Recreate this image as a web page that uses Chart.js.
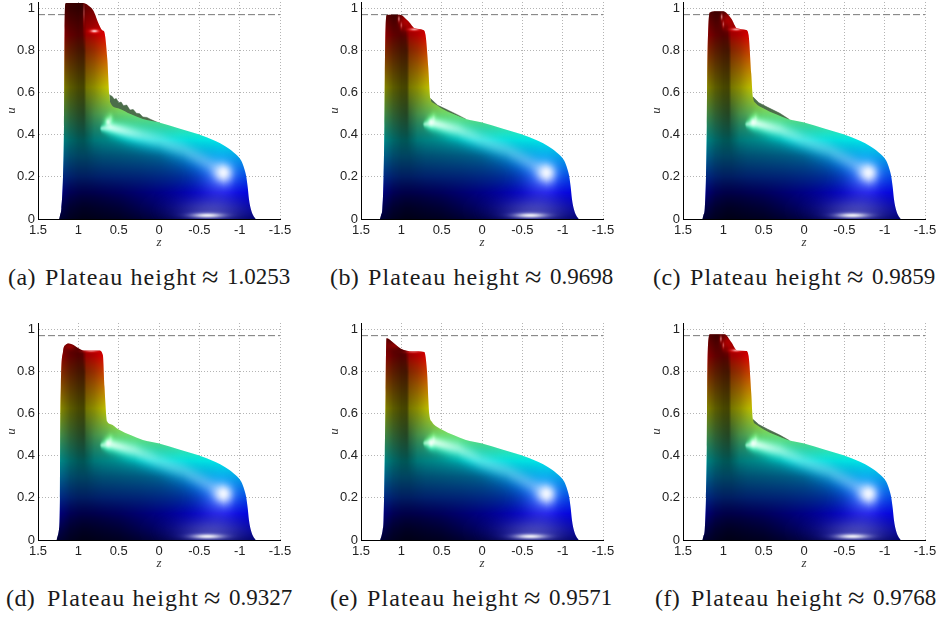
<!DOCTYPE html>
<html>
<head>
<meta charset="utf-8">
<script src="https://cdn.jsdelivr.net/npm/chart.js@4"></script>
<style>
  html, body { margin: 0; padding: 0; background: #fff; overflow: hidden; }
  #page { position: relative; width: 938px; height: 619px; }
  canvas { position: absolute; filter: blur(0.35px); }
  .cap { position: absolute; white-space: pre; color: #1a1a1a;
         font: 24px "Liberation Serif", serif; line-height: 28px; }
</style>
</head>
<body>
<div id="page"></div>
<script>
// 軸の目盛り
const zTicks = [1.5, 1, 0.5, 0, -0.5, -1, -1.5];
const uTicks = [0, 0.2, 0.4, 0.6, 0.8, 1];
const refLevel = 0.97;
const plateauHeights = ['1.0253', '0.9698', '0.9859', '0.9327', '0.9571', '0.9768'];
const panelLetters = ['a', 'b', 'c', 'd', 'e', 'f'];

// 右側の棚（全パネル共通）
const shelfZ = [0.6, 0.5, 0.347, 0.2, 0.01, -0.25, -0.48, -0.7, -0.816, -0.93, -1.02, -1.06, -1.08, -1.1, -1.115, -1.14, -1.17, -1.2];
const shelfU = [0.55, 0.525, 0.497, 0.475, 0.459, 0.43, 0.403, 0.37, 0.347, 0.315, 0.276, 0.235, 0.205, 0.15, 0.095, 0.045, 0.016, 0];

// 左側の塔（パネルごと）
const towerZa = [1.238, 1.225, 1.21, 1.19, 1.178, 1.17, 1.162, 1.15, 1.05, 0.94, 0.88, 0.815, 0.74, 0.7, 0.68, 0.64, 0.617];
const towerUa = [0, 0.02, 0.05, 0.2, 0.44, 0.9, 1.02, 1.0253, 1.0253, 1.0253, 1.015, 0.99, 0.92, 0.895, 0.89, 0.755, 0.59];
const towerZb = [1.265, 1.25, 1.235, 1.22, 1.21, 1.205, 1.195, 1.18, 1.1, 1.02, 0.915, 0.83, 0.73, 0.7, 0.667, 0.642];
const towerUb = [0, 0.02, 0.05, 0.2, 0.44, 0.675, 0.913, 0.968, 0.9698, 0.9698, 0.94, 0.905, 0.897, 0.873, 0.723, 0.573];
const towerZc = [1.26, 1.245, 1.23, 1.215, 1.205, 1.2, 1.185, 1.165, 1.09, 1.006, 0.903, 0.83, 0.717, 0.687, 0.654, 0.634];
const towerUc = [0, 0.02, 0.05, 0.2, 0.44, 0.675, 0.92, 0.98, 0.9859, 0.9859, 0.952, 0.905, 0.897, 0.873, 0.69, 0.58];
const towerZd = [1.27, 1.255, 1.24, 1.228, 1.226, 1.217, 1.19, 1.16, 1.118, 1.06, 1.015, 0.93, 0.745, 0.696, 0.676, 0.642];
const towerUd = [0, 0.02, 0.05, 0.2, 0.44, 0.728, 0.894, 0.925, 0.9327, 0.925, 0.914, 0.9, 0.899, 0.878, 0.728, 0.562];
const towerZe = [1.263, 1.245, 1.23, 1.22, 1.205, 1.195, 1.19, 1.184, 1.11, 1.006, 0.86, 0.716, 0.683, 0.655, 0.62];
const towerUe = [0, 0.02, 0.05, 0.095, 0.41, 0.7, 0.886, 0.9571, 0.94, 0.908, 0.896, 0.892, 0.806, 0.6, 0.56];
const towerZf = [1.26, 1.245, 1.23, 1.215, 1.205, 1.2, 1.185, 1.165, 1.07, 0.985, 0.903, 0.83, 0.717, 0.687, 0.654, 0.634];
const towerUf = [0, 0.02, 0.05, 0.2, 0.44, 0.728, 0.95, 0.9768, 0.9768, 0.9768, 0.94, 0.9, 0.897, 0.873, 0.696, 0.573];

// 棚の上のギザギザ
const fringeZa = [0.617, 0.58, 0.555, 0.53, 0.5, 0.47, 0.44, 0.4, 0.36, 0.32, 0.28, 0.24, 0.2, 0.15, 0.1, 0.05, 0];
const fringeUa = [0.59, 0.582, 0.568, 0.572, 0.552, 0.555, 0.538, 0.541, 0.517, 0.52, 0.502, 0.5, 0.484, 0.482, 0.472, 0.464, 0.456];
const fringeZb = [0.642, 0.55, 0.45, 0.3, 0.2];
const fringeUb = [0.573, 0.54, 0.522, 0.494, 0.474];
const fringeZc = [0.634, 0.56, 0.45, 0.3, 0.18];
const fringeUc = [0.58, 0.552, 0.53, 0.502, 0.472];
const fringeZf = [0.634, 0.56, 0.45, 0.3, 0.18];
const fringeUf = [0.573, 0.548, 0.526, 0.498, 0.472];

// 陰影のグリッド（明るさ）
const shadeZ = [1.3, 1.2, 1.1, 1.0, 0.95, 0.93, 0.9, 0.8, 0.7, 0.5, 0.25, 0, -0.25, -0.5, -0.75, -1, -1.1, -1.3];
const shadeU = [0, 0.05, 0.1, 0.2, 0.3, 0.4, 0.5, 0.6, 0.8, 0.95, 1.03];
const shadeGrid = [
  [0.5, 0.35, 0.25, 0.2, 0.18, 0.18, 0.18, 0.2, 0.22, 0.25, 0.35, 0.45, 0.55, 0.65, 0.72, 0.75, 0.8, 0.8],
  [0.5, 0.38, 0.26, 0.22, 0.2, 0.2, 0.2, 0.22, 0.24, 0.28, 0.38, 0.47, 0.55, 0.62, 0.7, 0.75, 0.8, 0.8],
  [0.55, 0.42, 0.3, 0.26, 0.25, 0.25, 0.25, 0.26, 0.28, 0.32, 0.4, 0.46, 0.52, 0.58, 0.66, 0.75, 0.8, 0.8],
  [0.6, 0.5, 0.42, 0.38, 0.38, 0.38, 0.38, 0.4, 0.42, 0.44, 0.46, 0.5, 0.54, 0.58, 0.68, 0.8, 0.85, 0.85],
  [0.6, 0.52, 0.42, 0.38, 0.38, 0.38, 0.38, 0.42, 0.45, 0.47, 0.5, 0.53, 0.62, 0.74, 0.85, 0.88, 0.9, 0.9],
  [0.6, 0.5, 0.4, 0.33, 0.32, 0.32, 0.36, 0.48, 0.52, 0.58, 0.66, 0.74, 0.85, 0.9, 0.9, 0.9, 0.9, 0.9],
  [0.65, 0.52, 0.38, 0.3, 0.28, 0.28, 0.4, 0.55, 0.65, 0.8, 0.88, 0.9, 0.9, 0.9, 0.9, 0.9, 0.9, 0.9],
  [0.65, 0.5, 0.36, 0.28, 0.27, 0.27, 0.45, 0.55, 0.68, 0.9, 0.9, 0.9, 0.9, 0.9, 0.9, 0.9, 0.9, 0.9],
  [0.7, 0.5, 0.36, 0.28, 0.27, 0.28, 0.5, 0.6, 0.75, 1, 1, 1, 1, 1, 1, 1, 1, 1],
  [0.75, 0.55, 0.4, 0.35, 0.4, 0.6, 0.72, 0.8, 0.9, 1, 1, 1, 1, 1, 1, 1, 1, 1],
  [0.8, 0.6, 0.45, 0.4, 0.45, 0.7, 0.85, 0.95, 1, 1, 1, 1, 1, 1, 1, 1, 1, 1]
];

// 白い尾根
const ridgeZ = [0.74, 0.71, 0.6, 0.4, 0.2, 0, -0.3, -0.6, -0.8, -0.95];
const ridgeU = [0.43, 0.43, 0.435, 0.415, 0.395, 0.375, 0.33, 0.265, 0.215, 0.19];
const ridgeGlow = [0, 0.55, 0.8, 0.65, 0.5, 0.42, 0.38, 0.42, 0.5, 0];
const ridgeWidth = [0.006, 0.012, 0.026, 0.034, 0.04, 0.044, 0.048, 0.05, 0.055, 0.055];

// ハイライト [z, u, rz, ru, 強さ, 白の割合]
const commonGlints = [
  [-0.8, 0.22, 0.13, 0.05, 0.92, 1],
  [-0.75, 0.18, 0.26, 0.11, 0.42, 0.7],
  [-0.6, 0.017, 0.22, 0.014, 0.92, 1],
  [-0.64, 0.04, 0.45, 0.07, 0.42, 0.9],
  [0.63, 0.46, 0.035, 0.02, 0.8, 1],
  [0.6, 0.475, 0.025, 0.02, 0.4, 1]
];
const headGlints = [
  [[0.8, 0.892, 0.05, 0.008, 0.85, 1], [0.93, 0.98, 0.008, 0.04, 0.5, 1]],
  [[0.84, 0.9, 0.06, 0.007, 0.7, 1], [1.03, 0.95, 0.012, 0.014, 0.6, 1], [1.0, 0.92, 0.012, 0.014, 0.45, 1], [0.95, 0.945, 0.05, 0.03, 0.7, 0]],
  [[0.84, 0.9, 0.06, 0.007, 0.7, 1], [1.02, 0.96, 0.012, 0.014, 0.6, 1], [1.0, 0.925, 0.012, 0.014, 0.45, 1], [0.95, 0.95, 0.05, 0.03, 0.7, 0]],
  [[0.84, 0.897, 0.08, 0.006, 0.55, 1], [1.1, 0.92, 0.05, 0.012, 0.4, 0]],
  [[0.85, 0.893, 0.08, 0.006, 0.4, 1], [1.08, 0.925, 0.06, 0.012, 0.4, 0]],
  [[0.84, 0.9, 0.06, 0.007, 0.7, 1], [1.03, 0.955, 0.012, 0.014, 0.6, 1], [1.0, 0.925, 0.012, 0.014, 0.45, 1], [0.95, 0.945, 0.05, 0.03, 0.7, 0]]
];
const ridgeLift = [0, 0.02, 0.02, 0.02, 0.03, 0.02];

const jetStops = [[0, '#000080'], [0.125, '#0000ff'], [0.375, '#00ffff'], [0.625, '#ffff00'], [0.875, '#ff0000'], [1, '#800000']];

function toPoints(zs, us) {
  return zs.map((z, i) => ({ x: z, y: us[i] }));
}

function jetFill(context) {
  const chart = context.chart;
  if (!chart.chartArea) return '#000080';
  const y = chart.scales.y;
  const g = chart.ctx.createLinearGradient(0, y.getPixelForValue(0), 0, y.getPixelForValue(1));
  jetStops.forEach(s => g.addColorStop(s[0], s[1]));
  return g;
}

// 降順配列の中の位置
function findZ(list, v) {
  let i = 0;
  while (i < list.length - 2 && v < list[i + 1]) i++;
  let t = (v - list[i]) / (list[i + 1] - list[i]);
  return [i, Math.max(0, Math.min(1, t))];
}
function findU(list, v) {
  let i = 0;
  while (i < list.length - 2 && v > list[i + 1]) i++;
  let t = (v - list[i]) / (list[i + 1] - list[i]);
  return [i, Math.max(0, Math.min(1, t))];
}

function brightness(z, u) {
  const [i, s] = findZ(shadeZ, z);
  const [j, t] = findU(shadeU, u);
  const a = shadeGrid[j][i] * (1 - s) + shadeGrid[j][i + 1] * s;
  const b = shadeGrid[j + 1][i] * (1 - s) + shadeGrid[j + 1][i + 1] * s;
  return a * (1 - t) + b * t;
}

// 光: lit は元の色を明るく、white は白へ
function lightAt(z, u, glints, lift) {
  let dark = 1, keep = 1;
  const add = (power, d2, whiteShare) => {
    dark *= 1 - Math.min(1, power * 1.2) * Math.exp(-d2 * 0.5);
    keep *= 1 - whiteShare * Math.pow(power, 1.5) * Math.exp(-d2 * 1.4);
  };
  if (z < ridgeZ[0] && z > ridgeZ[ridgeZ.length - 1]) {
    const [i, s] = findZ(ridgeZ, z);
    const mix = list => list[i] * (1 - s) + list[i + 1] * s;
    const up = mix(ridgeU) + (z > 0 ? lift * Math.min(1, z / 0.3) : 0);
    const d = (u - up) / mix(ridgeWidth);
    add(mix(ridgeGlow), d * d, 1);
  }
  for (const g of glints) {
    const dz = (z - g[0]) / g[2];
    const du = (u - g[1]) / g[3];
    add(g[4], dz * dz + du * du, g[5]);
  }
  return [1 - dark, 1 - keep];
}

// 本体の塗りの上に陰影を重ねる
function makeShade(panel) {
  const glints = commonGlints.concat(headGlints[panel]);
  return {
    id: 'surfaceShade',
    afterDatasetDraw(chart, args) {
      if (args.index !== 0) return;
      const xs = chart.scales.x, ys = chart.scales.y, area = chart.chartArea, ctx = chart.ctx;
      const w = Math.ceil(area.right - area.left), h = Math.ceil(area.bottom - area.top);
      const off = document.createElement('canvas');
      off.width = w; off.height = h;
      const octx = off.getContext('2d');
      const img = octx.createImageData(w, h);
      for (let py = 0; py < h; py++) {
        const u = ys.getValueForPixel(area.top + py + 0.5);
        for (let px = 0; px < w; px++) {
          const z = xs.getValueForPixel(area.left + px + 0.5);
          if (z > 1.3 || z < -1.3) continue;
          const [lit, white] = lightAt(z, u, glints, ridgeLift[panel]);
          let m = brightness(z, u);
          m = m + (1 - m) * lit;
          const alpha = 1 - m * (1 - white);
          const c = alpha > 0 ? 255 * white / alpha : 0;
          const k = (py * w + px) * 4;
          img.data[k] = img.data[k + 1] = img.data[k + 2] = c;
          img.data[k + 3] = alpha * 255;
        }
      }
      octx.putImageData(img, 0, 0);
      const line = chart.getDatasetMeta(0).dataset;
      ctx.save();
      ctx.beginPath();
      line.path(ctx);
      ctx.lineTo(xs.getPixelForValue(-1.2), ys.getPixelForValue(0));
      ctx.lineTo(xs.getPixelForValue(1.29), ys.getPixelForValue(0));
      ctx.closePath();
      ctx.clip();
      ctx.drawImage(off, area.left, area.top);
      ctx.restore();
    }
  };
}

const panels = [
  { left: 0, top: 0, z: towerZa, u: towerUa, fz: fringeZa, fu: fringeUa, labelX: 8, wordsX: 45 },
  { left: 323, top: 0, z: towerZb, u: towerUb, fz: fringeZb, fu: fringeUb, labelX: 330, wordsX: 368 },
  { left: 645, top: 0, z: towerZc, u: towerUc, fz: fringeZc, fu: fringeUc, labelX: 653, wordsX: 690 },
  { left: 0, top: 321, z: towerZd, u: towerUd, fz: null, fu: null, labelX: 6, wordsX: 47 },
  { left: 323, top: 321, z: towerZe, u: towerUe, fz: null, fu: null, labelX: 330, wordsX: 367 },
  { left: 645, top: 321, z: towerZf, u: towerUf, fz: fringeZf, fu: fringeUf, labelX: 655, wordsX: 691 }
];

const page = document.getElementById('page');

function addCaption(text, x, y, size, spacing) {
  const cap = document.createElement('div');
  cap.className = 'cap';
  cap.style.left = x + 'px';
  cap.style.top = y + 'px';
  cap.style.fontSize = size + 'px';
  cap.style.letterSpacing = spacing + 'px';
  cap.textContent = text;
  page.appendChild(cap);
}

function noPadding(s) {
  s.paddingTop = s.paddingBottom = s.paddingLeft = s.paddingRight = 0;
}

panels.forEach((p, n) => {
  const cv = document.createElement('canvas');
  cv.width = 292;
  cv.height = 250;
  cv.style.left = p.left + 'px';
  cv.style.top = p.top + 'px';
  page.appendChild(cv);

  const datasets = [{
    data: toPoints(p.z.concat(shelfZ), p.u.concat(shelfU)),
    fill: 'origin',
    backgroundColor: jetFill,
    borderWidth: 0,
    pointRadius: 0,
    cubicInterpolationMode: 'monotone'
  }];
  if (p.fz) {
    datasets.push({
      data: toPoints(p.fz, p.fu),
      fill: 'origin',
      backgroundColor: '#4c6e4a',
      borderColor: '#3f5f40',
      borderWidth: 0.5,
      pointRadius: 0
    });
  }
  datasets.push({
    data: [{ x: 1.5, y: refLevel }, { x: -1.5, y: refLevel }],
    borderColor: '#777',
    borderWidth: 1,
    borderDash: [7, 3],
    pointRadius: 0,
    fill: false
  });

  new Chart(cv.getContext('2d'), {
    type: 'line',
    data: { datasets: datasets },
    plugins: [makeShade(n)],
    options: {
      responsive: false,
      animation: false,
      layout: { autoPadding: false, padding: { top: 2, right: 12 } },
      plugins: { legend: { display: false }, tooltip: { enabled: false } },
      scales: {
        x: {
          type: 'linear',
          reverse: true,
          min: -1.5,
          max: 1.5,
          afterBuildTicks: s => { s.ticks = zTicks.map(v => ({ value: v })); },
          afterFit: s => { s.height = 31; noPadding(s); },
          ticks: {
            autoSkip: false, maxRotation: 0, padding: 4, color: '#222',
            font: { family: 'Liberation Sans', size: 13 },
            callback: v => String(v)
          },
          grid: { color: '#b4b4b4', drawTicks: false },
          border: { color: '#000', width: 1, dash: [1, 2], z: 1 },
          title: {
            display: true, text: 'z', color: '#333',
            font: { family: 'Liberation Serif', style: 'italic', size: 13 },
            padding: { top: 0, bottom: 0 }
          }
        },
        y: {
          min: 0,
          max: 1.03,
          afterBuildTicks: s => { s.ticks = uTicks.map(v => ({ value: v })); },
          afterFit: s => { s.width = 38; noPadding(s); },
          ticks: {
            padding: 3, color: '#222',
            font: { family: 'Liberation Sans', size: 13 },
            callback: v => String(v)
          },
          grid: { color: '#b4b4b4', drawTicks: false },
          border: { color: '#000', width: 1, dash: [1, 2], z: 1 },
          title: {
            display: true, text: 'u', color: '#333',
            font: { family: 'Liberation Serif', style: 'italic', size: 13 },
            padding: { top: 4, bottom: 0 }
          }
        }
      }
    }
  });

  const capY = p.top + 263;
  addCaption('(' + panelLetters[n] + ')', p.labelX, capY, 24, 0.4);
  addCaption('Plateau height', p.wordsX, capY, 24, 1.1);
  addCaption('≈', p.wordsX + 157, capY, 30, 0);
  addCaption(plateauHeights[n], p.wordsX + 182, capY, 23, 0);
});
</script>
</body>
</html>
